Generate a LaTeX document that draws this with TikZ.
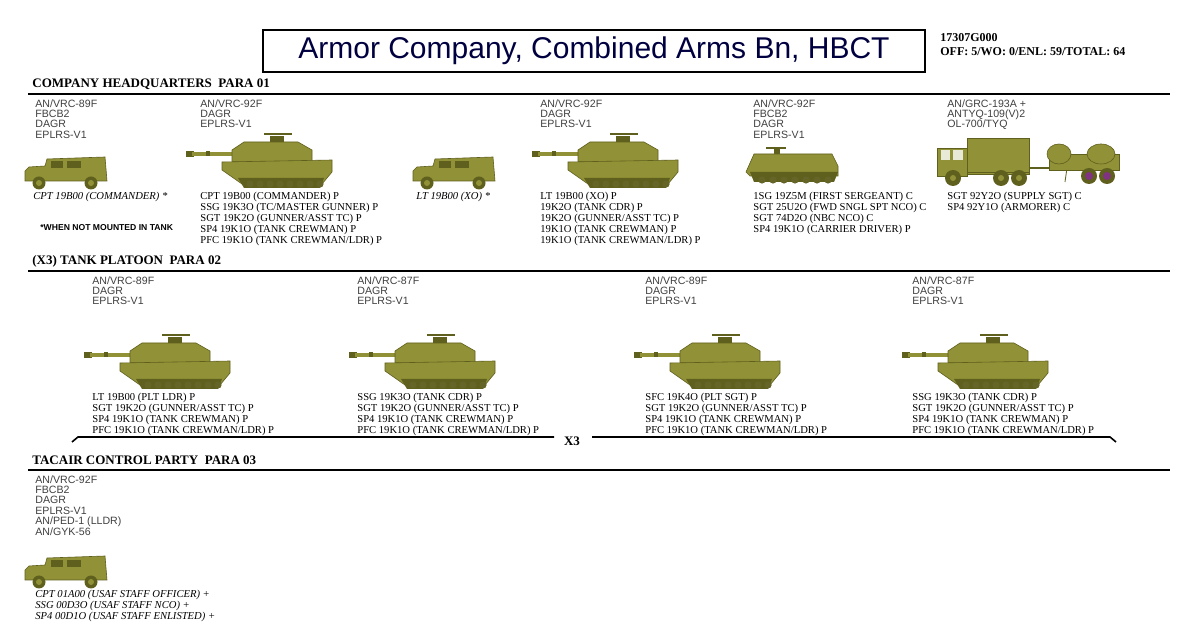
\documentclass[tikz,border=0pt]{standalone}
\usepackage{fontspec}
\setmainfont{Liberation Serif}
\setsansfont{Liberation Sans}
\begin{document}
\begin{tikzpicture}[x=0.5pt,y=-0.5pt,
  olive/.style={fill=oliveA,draw=oliveD,line width=0.3pt},
  radio/.style={anchor=north west,inner sep=0pt,align=left,font=\sffamily\fontsize{5.3}{5.2}\selectfont,text=black!75},
  crew/.style={anchor=north west,inner sep=0pt,align=left,font=\fontsize{5.3}{5.5}\selectfont},
  crewit/.style={crew,font=\itshape\fontsize{5.3}{5.5}\selectfont},
  sect/.style={anchor=west,inner sep=0pt,font=\bfseries\fontsize{6.5}{6.5}\selectfont},
  rule/.style={line width=1.1pt},
  tank/.pic={
    \fill[oliveD] (0,-3) rectangle (8,3);
    \fill[oliveA] (6,-2) rectangle (52,2);
    \fill[oliveD] (20,-2.5) rectangle (24,2.5);
    \draw[olive] (46,-4) -- (58,-12) -- (112,-12) -- (126,-4) -- (126,8) -- (46,8) -- cycle;
    \fill[oliveD] (84,-18) rectangle (98,-12);
    \draw[oliveD,line width=0.8pt] (78,-20) -- (106,-20);
    \draw[olive] (36,8) -- (146,6) -- (146,18) -- (136,30) -- (56,30) -- (36,16) -- cycle;
    \fill[oliveD] (52,24) -- (138,24) -- (134,34) -- (58,34) -- cycle;
    \foreach \i in {0,...,7} \fill[oliveA!70!black] (64+\i*10,30) circle (3.6);
  },
  humvee/.pic={
    \draw[olive] (0,14) -- (4,10) -- (20,9) -- (22,2) -- (80,0) -- (82,24) -- (0,24) -- cycle;
    \fill[oliveD] (26,4) rectangle (38,11);
    \fill[oliveD] (42,4) rectangle (56,11);
    \foreach \x in {14,66} {\fill[oliveD] (\x,26) circle (6.5); \fill[oliveA] (\x,26) circle (3);}
  },
  apc/.pic={
    \draw[oliveD,line width=0.8pt] (20,0) -- (40,0);
    \fill[oliveD] (28,0) rectangle (34,6);
    \draw[olive] (0,24) -- (8,6) -- (86,6) -- (92,18) -- (92,28) -- (4,28) -- cycle;
    \fill[oliveD] (4,24) -- (92,24) -- (88,34) -- (8,34) -- cycle;
    \foreach \i in {0,...,6} \fill[oliveA!70!black] (16+\i*11,32) circle (3.6);
  },
  truck/.pic={
    \draw[olive] (0,10) rectangle (30,38);
    \fill[white!80!oliveA] (4,12) rectangle (13,22);
    \fill[white!80!oliveA] (16,12) rectangle (26,22);
    \draw[olive] (30,0) rectangle (92,36);
    \draw[oliveD] (30,34) -- (92,34);
    \foreach \x in {16,64,82} {\fill[oliveD] (\x,40) circle (8); \fill[oliveA] (\x,40) circle (3);}
    \draw[oliveD,line width=0.8pt] (92,30) -- (130,30);
    \draw[oliveD] (130,30) -- (128,44);
    \draw[olive] (112,16) rectangle (182,32);
    \draw[olive] (122,16) ellipse (12 and 10);
    \draw[olive] (164,16) ellipse (14 and 10);
    \foreach \x in {152,170} {\fill[oliveD] (\x,38) circle (8); \fill[violet!60!gray] (\x,38) circle (4);}
  }
]
\definecolor{oliveA}{RGB}{145,145,55}
\definecolor{oliveD}{RGB}{95,95,30}
\useasboundingbox (0,0) rectangle (1200,630);
\fill[white] (0,0) rectangle (1200,630);
% title
\node[draw,line width=1pt,minimum width=662*0.5pt,minimum height=42*0.5pt,inner sep=0pt,
  font=\sffamily\fontsize{15}{15}\selectfont,text=blue!25!black] (title) at (594,51) {Armor Company, Combined Arms Bn, HBCT};
\node[anchor=north west,inner sep=0pt,align=left,font=\bfseries\fontsize{6}{7}\selectfont] (code) at (940,33) {17307G000\\OFF: 5/WO: 0/ENL: 59/TOTAL: 64};
% section 1
\node[sect] (s1) at (32,84) {COMPANY HEADQUARTERS\ \ PARA 01};
\coordinate (r1a) at (28,94); \coordinate (r1b) at (1170,94);
\draw[rule] (r1a) -- (r1b);
\node[radio] (h1r) at (35,99) {AN/VRC-89F\\FBCB2\\DAGR\\EPLRS-V1};
\node[radio] (h2r) at (200,99) {AN/VRC-92F\\DAGR\\EPLRS-V1};
\node[radio] (h4r) at (540,99) {AN/VRC-92F\\DAGR\\EPLRS-V1};
\node[radio] (h5r) at (753,99) {AN/VRC-92F\\FBCB2\\DAGR\\EPLRS-V1};
\node[radio] (h6r) at (947,99) {AN/GRC-193A +\\ANTYQ-109(V)2\\OL-700/TYQ};
\pic at (25,157) {humvee};
\pic at (186,154) {tank};
\pic at (413,157) {humvee};
\pic at (532,154) {tank};
\pic at (746,148) {apc};
\pic at (937,138) {truck};
\node[crewit] (h1c) at (33,192) {CPT 19B00 (COMMANDER) *};
\node[anchor=north west,inner sep=0pt,font=\sffamily\bfseries\fontsize{4.3}{5}\selectfont] (note) at (40,224) {*WHEN NOT MOUNTED IN TANK};
\node[crew] (h2c) at (200,192) {CPT 19B00 (COMMANDER) P\\SSG 19K3O (TC/MASTER GUNNER) P\\SGT 19K2O (GUNNER/ASST TC) P\\SP4 19K1O (TANK CREWMAN) P\\PFC 19K1O (TANK CREWMAN/LDR) P};
\node[crewit] (h3c) at (416,192) {LT 19B00 (XO) *};
\node[crew] (h4c) at (540,192) {LT 19B00 (XO) P\\19K2O (TANK CDR) P\\19K2O (GUNNER/ASST TC) P\\19K1O (TANK CREWMAN) P\\19K1O (TANK CREWMAN/LDR) P};
\node[crew] (h5c) at (753,192) {1SG 19Z5M (FIRST SERGEANT) C\\SGT 25U2O (FWD SNGL SPT NCO) C\\SGT 74D2O (NBC NCO) C\\SP4 19K1O (CARRIER DRIVER) P};
\node[crew] (h6c) at (947,192) {SGT 92Y2O (SUPPLY SGT) C\\SP4 92Y1O (ARMORER) C};
% section 2
\node[sect] (s2) at (32,261) {(X3) TANK PLATOON\ \ PARA 02};
\coordinate (r2a) at (28,271); \coordinate (r2b) at (1170,271);
\draw[rule] (r2a) -- (r2b);
\node[radio] (p1r) at (92,276) {AN/VRC-89F\\DAGR\\EPLRS-V1};
\node[radio] (p2r) at (357,276) {AN/VRC-87F\\DAGR\\EPLRS-V1};
\node[radio] (p3r) at (645,276) {AN/VRC-89F\\DAGR\\EPLRS-V1};
\node[radio] (p4r) at (912,276) {AN/VRC-87F\\DAGR\\EPLRS-V1};
\pic at (84,355) {tank};
\pic at (349,355) {tank};
\pic at (634,355) {tank};
\pic at (902,355) {tank};
\node[crew] (p1c) at (92,393) {LT 19B00 (PLT LDR) P\\SGT 19K2O (GUNNER/ASST TC) P\\SP4 19K1O (TANK CREWMAN) P\\PFC 19K1O (TANK CREWMAN/LDR) P};
\node[crew] (p2c) at (357,393) {SSG 19K3O (TANK CDR) P\\SGT 19K2O (GUNNER/ASST TC) P\\SP4 19K1O (TANK CREWMAN) P\\PFC 19K1O (TANK CREWMAN/LDR) P};
\node[crew] (p3c) at (645,393) {SFC 19K4O (PLT SGT) P\\SGT 19K2O (GUNNER/ASST TC) P\\SP4 19K1O (TANK CREWMAN) P\\PFC 19K1O (TANK CREWMAN/LDR) P};
\node[crew] (p4c) at (912,393) {SSG 19K3O (TANK CDR) P\\SGT 19K2O (GUNNER/ASST TC) P\\SP4 19K1O (TANK CREWMAN) P\\PFC 19K1O (TANK CREWMAN/LDR) P};
\node[inner sep=0pt,font=\bfseries\fontsize{6.5}{6.5}\selectfont] (x3) at (572,441) {X3};
\coordinate (b1) at (72,442); \coordinate (b2) at (78,437); \coordinate (b3) at (554,437);
\coordinate (b4) at (592,437); \coordinate (b5) at (1110,437); \coordinate (b6) at (1116,442);
\draw[line width=0.8pt] (b1) -- (b2) -- (b3);
\draw[line width=0.8pt] (b4) -- (b5) -- (b6);
% section 3
\node[sect] (s3) at (32,460) {TACAIR CONTROL PARTY\ \ PARA 03};
\coordinate (r3a) at (28,470); \coordinate (r3b) at (1170,470);
\draw[rule] (r3a) -- (r3b);
\node[radio] (t1r) at (35,475) {AN/VRC-92F\\FBCB2\\DAGR\\EPLRS-V1\\AN/PED-1 (LLDR)\\AN/GYK-56};
\pic at (25,556) {humvee};
\node[crewit] (t1c) at (35,590) {CPT 01A00 (USAF STAFF OFFICER) +\\SSG 00D3O (USAF STAFF NCO) +\\SP4 00D1O (USAF STAFF ENLISTED) +};
\end{tikzpicture}
\end{document}
